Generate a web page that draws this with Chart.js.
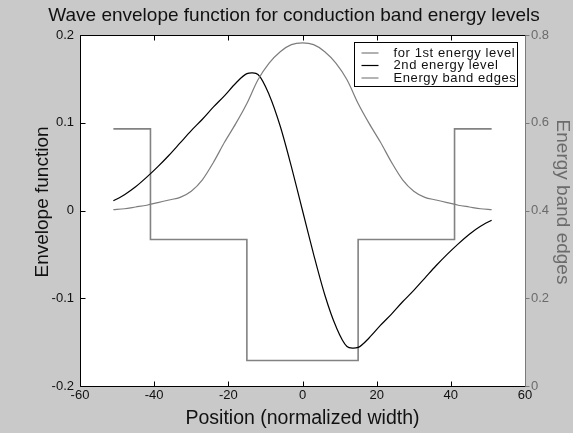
<!DOCTYPE html>
<html>
<head>
<meta charset="utf-8">
<title>Wave envelope function</title>
<script src="https://cdn.jsdelivr.net/npm/chart.js@4.4.1/dist/chart.umd.min.js"></script>
<style>
  html, body { margin: 0; padding: 0; background: #c9c9c9; }
  #caja { width: 573px; height: 433px; }
</style>
</head>
<body>
<div id="caja"><canvas id="myChart"></canvas></div>
<script>
// Posición (ancho normalizado) para las funciones envolventes
var posicion = [-51, -48, -45, -42, -39, -36, -33, -30, -27, -24, -21, -18, -15, -12, -9, -6, -3, 0,
                3, 6, 9, 12, 15, 18, 21, 24, 27, 30, 33, 36, 39, 42, 45, 48, 51];

// Primer nivel de energía (simétrica)
var nivel1 = [0.001, 0.002, 0.004, 0.006, 0.009, 0.012, 0.015, 0.022, 0.035, 0.055, 0.078, 0.099, 0.122, 0.149, 0.168, 0.181, 0.189, 0.191,
              0.189, 0.181, 0.168, 0.149, 0.122, 0.099, 0.078, 0.055, 0.035, 0.022, 0.015, 0.012, 0.009, 0.006, 0.004, 0.002, 0.001];

// Segundo nivel de energía (antisimétrica)
var nivel2 = [0.011, 0.018, 0.027, 0.038, 0.050, 0.063, 0.077, 0.091, 0.104, 0.118, 0.131, 0.145, 0.156, 0.155, 0.132, 0.096, 0.050, 0,
              -0.050, -0.096, -0.132, -0.155, -0.156, -0.145, -0.131, -0.118, -0.104, -0.091, -0.077, -0.063, -0.050, -0.038, -0.027, -0.018, -0.011];

// Bordes de banda (eje derecho)
var bordeX = [-51, -41, -41, -15, -15, 15, 15, 41, 41, 51];
var bordeE = [0.586, 0.586, 0.334, 0.334, 0.058, 0.058, 0.334, 0.334, 0.586, 0.586];

var etiquetas = ['for 1st energy level', '2nd energy level', 'Energy band edges'];

var titulo = 'Wave envelope function for conduction band energy levels';
var tituloIzq = 'Envelope function';
var tituloDer = 'Energy band edges';

var fuente = '"Liberation Sans", Arial, Helvetica, sans-serif';

function puntos(xs, ys) {
  return xs.map(function (x, i) { return { x: x, y: ys[i] }; });
}

// Fondo blanco del área de la gráfica
var fondo = {
  id: 'fondo',
  beforeDraw: function (chart) {
    var a = chart.chartArea, ctx = chart.ctx;
    ctx.save();
    ctx.fillStyle = '#ffffff';
    ctx.fillRect(a.left, a.top, a.right - a.left, a.bottom - a.top);
    ctx.restore();
  }
};

// Marco y marcas de los ejes (estilo matlab, hacia dentro)
var marco = {
  id: 'marco',
  afterDatasetsDraw: function (chart) {
    var a = chart.chartArea, ctx = chart.ctx, s = chart.scales;
    var L = Math.round(a.left) + 0.5, R = Math.round(a.right) + 0.5;
    var T = Math.round(a.top) + 0.5, B = Math.round(a.bottom) + 0.5;
    ctx.save();
    ctx.lineWidth = 1;
    ctx.strokeStyle = '#000000';
    ctx.beginPath();
    ctx.moveTo(R, T); ctx.lineTo(L, T); ctx.lineTo(L, B); ctx.lineTo(R, B);
    s.x.ticks.forEach(function (t) {
      var px = Math.round(s.x.getPixelForValue(t.value)) + 0.5;
      ctx.moveTo(px, B); ctx.lineTo(px, B - 5);
      ctx.moveTo(px, T); ctx.lineTo(px, T + 5);
    });
    s.y.ticks.forEach(function (t) {
      var py = Math.round(s.y.getPixelForValue(t.value)) + 0.5;
      ctx.moveTo(L, py); ctx.lineTo(L + 5, py);
    });
    ctx.stroke();
    // eje derecho en gris
    ctx.strokeStyle = '#7a7a7a';
    ctx.beginPath();
    ctx.moveTo(R, T); ctx.lineTo(R, B);
    s.y1.ticks.forEach(function (t) {
      var py = Math.round(s.y1.getPixelForValue(t.value)) + 0.5;
      ctx.moveTo(R, py); ctx.lineTo(R + 4, py);
    });
    ctx.stroke();
    ctx.restore();
  }
};

// Títulos: principal arriba y los dos de los ejes verticales
var titulos = {
  id: 'titulos',
  afterDraw: function (chart) {
    var a = chart.chartArea, ctx = chart.ctx;
    var cy = (a.top + a.bottom) / 2 - 8.5;
    ctx.save();
    ctx.font = '19px ' + fuente;
    ctx.textAlign = 'center';
    ctx.textBaseline = 'middle';
    ctx.fillStyle = '#111111';
    ctx.fillText(titulo, (a.left + a.right) / 2 - 8.5, 16);

    ctx.save();
    ctx.translate(a.left - 37, cy);
    ctx.rotate(-Math.PI / 2);
    ctx.fillText(tituloIzq, 0, 0);
    ctx.restore();

    ctx.save();
    ctx.fillStyle = '#6b6b6b';
    ctx.translate(a.right + 37, cy);
    ctx.rotate(Math.PI / 2);
    ctx.fillText(tituloDer, 0, 0);
    ctx.restore();
    ctx.restore();
  }
};

// Leyenda dentro del área, arriba a la derecha
var leyenda = {
  id: 'leyenda',
  afterDraw: function (chart) {
    var a = chart.chartArea, ctx = chart.ctx;
    var x0 = Math.round(a.right) - 171 + 0.5, y0 = Math.round(a.top) + 7 + 0.5;
    var w = 163, h = 44;
    ctx.save();
    ctx.fillStyle = '#ffffff';
    ctx.fillRect(x0, y0, w, h);
    ctx.strokeStyle = '#000000';
    ctx.lineWidth = 1;
    ctx.strokeRect(x0, y0, w, h);
    ctx.font = '13px ' + fuente;
    ctx.letterSpacing = '0.6px';
    ctx.textBaseline = 'middle';
    ctx.fillStyle = '#111111';
    chart.data.datasets.forEach(function (ds, i) {
      var y = y0 + 10.5 + i * 12.5;
      ctx.strokeStyle = ds.borderColor;
      ctx.lineWidth = 1.2;
      ctx.beginPath();
      ctx.moveTo(x0 + 7, y); ctx.lineTo(x0 + 24, y);
      ctx.stroke();
      ctx.fillText(ds.label, x0 + 39, y);
    });
    ctx.restore();
  }
};

var ctx = document.getElementById('myChart').getContext('2d');

var chart = new Chart(ctx, {
  type: 'line',
  data: {
    datasets: [{
      label: etiquetas[0],
      data: puntos(posicion, nivel1),
      borderColor: '#7d7d7d',
      borderWidth: 1.2,
      yAxisID: 'y'
    }, {
      label: etiquetas[1],
      data: puntos(posicion, nivel2),
      borderColor: '#000000',
      borderWidth: 1.2,
      yAxisID: 'y'
    }, {
      label: etiquetas[2],
      data: puntos(bordeX, bordeE),
      borderColor: '#828282',
      borderWidth: 1.6,
      tension: 0,
      yAxisID: 'y1'
    }]
  },
  options: {
    responsive: true,
    maintainAspectRatio: false,
    animation: false,
    layout: { padding: { top: 35 } },
    elements: {
      point: { radius: 0 },
      line: { tension: 0.3, fill: false }
    },
    plugins: {
      legend: { display: false },
      tooltip: { enabled: false }
    },
    scales: {
      x: {
        type: 'linear',
        min: -60,
        max: 60,
        ticks: { stepSize: 20, color: '#111111', padding: 2, font: { family: fuente, size: 13 } },
        grid: { display: false, drawTicks: false },
        border: { display: false },
        title: {
          display: true,
          text: 'Position (normalized width)',
          color: '#111111',
          font: { family: fuente, size: 19.5 },
          padding: { top: 0, bottom: 2.3 }
        },
        afterFit: function (s) { s.height = 47; }
      },
      y: {
        position: 'left',
        min: -0.2,
        max: 0.2,
        ticks: { stepSize: 0.1, color: '#111111', padding: 6, font: { family: fuente, size: 13 } },
        grid: { display: false, drawTicks: false },
        border: { display: false },
        afterFit: function (s) { s.width = 80; }
      },
      y1: {
        position: 'right',
        min: 0,
        max: 0.8,
        ticks: { stepSize: 0.2, color: '#6b6b6b', padding: 6, font: { family: fuente, size: 13 } },
        grid: { display: false, drawTicks: false },
        border: { display: false },
        afterFit: function (s) { s.width = 48; }
      }
    }
  },
  plugins: [fondo, marco, titulos, leyenda]
});
</script>
</body>
</html>
